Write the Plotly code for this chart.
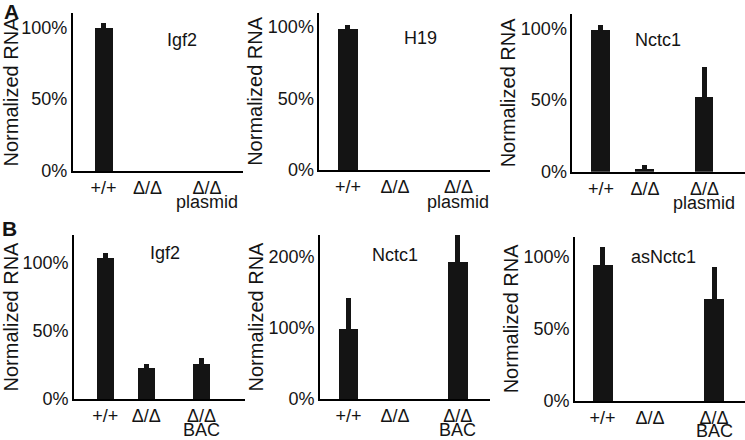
import plotly.graph_objects as go

# ---------------- data ----------------
categories_A = ["+/+", "Δ/Δ", "Δ/Δ"]
sublabels_A = ["", "", "plasmid"]
categories_B = ["+/+", "Δ/Δ", "Δ/Δ"]
sublabels_B = ["", "", "BAC"]

igf2_A = [99.4, 0, 0]
igf2_A_err = [3.5, 0, 0]
h19_A = [98.7, 0, 0]
h19_A_err = [3.0, 0, 0]
nctc1_A = [98.7, 1.9, 52.2]
nctc1_A_err = [3.5, 2.8, 20.5]

igf2_B = [103.4, 22.8, 25.8]
igf2_B_err = [3.4, 2.5, 3.9]
nctc1_B = [98.3, 0, 192.0]
nctc1_B_err = [43.4, 0, 39.7]
asnctc1_B = [94.7, 0, 70.7]
asnctc1_B_err = [12.3, 0, 22.3]

ticks_A = [0, 50, 100]
ticks_B_igf2 = [0, 50, 100]
ticks_B_nctc1 = [0, 100, 200]
ticks_B_asnctc1 = [0, 50, 100]

# ---------------- layout helpers ----------------
W, H = 745, 440
cat_pos = [0, 1, 2.35]  # category slots on the x axis
FONT = "Liberation Sans, Arial, Helvetica, sans-serif"
INK = "#141414"


def px_x(p):
    return p / W


def px_y(p):
    return 1 - p / H


panels = [
    # name, cats, sublabels, vals, errs, yticks, yrange, xrange, xdom(px), ydom(px bottom, top), title pos(px), sublabel y(px)
    ("Igf2", categories_A, sublabels_A, igf2_A, igf2_A_err, ticks_A, [0, 110], [-0.70, 3.17], (72.7, 243), (171, 13), (182, 40), 202),
    ("H19", categories_A, sublabels_A, h19_A, h19_A_err, ticks_A, [0, 110], [-0.61, 3.02], (319.3, 490), (170, 12.7), (420, 38), 202),
    ("Nctc1", categories_A, sublabels_A, nctc1_A, nctc1_A_err, ticks_A, [0, 110], [-0.65, 3.27], (572.3, 745), (171.7, 14), (658, 40), 203),
    ("Igf2", categories_B, sublabels_B, igf2_B, igf2_B_err, ticks_B_igf2, [0, 120], [-0.76, 3.41], (74, 245), (399, 235), (165, 253), 430),
    ("Nctc1", categories_B, sublabels_B, nctc1_B, nctc1_B_err, ticks_B_nctc1, [0, 230], [-0.61, 3.04], (320, 490), (399, 235), (395, 255), 430),
    ("asNctc1", categories_B, sublabels_B, asnctc1_B, asnctc1_B_err, ticks_B_asnctc1, [0, 114], [-0.58, 3.0], (575, 745), (401, 236.7), (663, 257), 431),
]

fig = go.Figure()
annotations = []
layout_axes = {}

for i, (name, cats, subs, vals, errs, yticks, yr, xr, xdom, ydom, tpos, sub_y) in enumerate(panels):
    n = i + 1
    xa = "x" if n == 1 else f"x{n}"
    ya = "y" if n == 1 else f"y{n}"
    fig.add_trace(go.Bar(
        x=cat_pos, y=vals,
        xaxis=xa, yaxis=ya,
        width=0.42,
        marker=dict(color=INK, line=dict(width=0)),
        error_y=dict(type="data", array=errs, arrayminus=[0] * len(errs),
                     symmetric=False, thickness=5, width=0, color=INK),
        showlegend=False, cliponaxis=False,
    ))
    xkey = "xaxis" if n == 1 else f"xaxis{n}"
    ykey = "yaxis" if n == 1 else f"yaxis{n}"
    layout_axes[xkey] = dict(
        domain=[px_x(xdom[0]), px_x(xdom[1])], anchor=ya,
        range=xr, tickvals=cat_pos, ticktext=cats,
        showline=True, linecolor="black", linewidth=1.6,
        showgrid=False, zeroline=False, ticks="", automargin=False,
        tickfont=dict(size=18, family=FONT, color=INK),
        fixedrange=True,
    )
    layout_axes[ykey] = dict(
        domain=[px_y(ydom[0]), px_y(ydom[1])], anchor=xa,
        range=yr, tickvals=yticks, ticktext=[f"{v}%" for v in yticks],
        showline=True, linecolor="black", linewidth=1.6,
        showgrid=False, zeroline=False, ticks="", automargin=False,
        tickfont=dict(size=18, family=FONT, color=INK),
        title=dict(text="Normalized RNA", font=dict(size=20, family=FONT, color=INK)),
        fixedrange=True,
    )
    annotations.append(dict(
        text=name, x=px_x(tpos[0]), y=px_y(tpos[1]), xref="paper", yref="paper",
        showarrow=False, xanchor="center", yanchor="middle",
        font=dict(size=18, family=FONT, color=INK),
    ))
    # second line of the category labels
    for p, s in zip(cat_pos, subs):
        if s:
            annotations.append(dict(
                text=s, x=p, y=px_y(sub_y), xref=xa, yref="paper",
                showarrow=False, xanchor="center", yanchor="middle",
                font=dict(size=18, family=FONT, color=INK),
            ))

annotations.append(dict(text="<b>A</b>", x=px_x(2), y=px_y(11), xref="paper", yref="paper",
                        showarrow=False, xanchor="left", yanchor="middle",
                        font=dict(size=21, family=FONT, color=INK)))
annotations.append(dict(text="<b>B</b>", x=px_x(0), y=px_y(228), xref="paper", yref="paper",
                        showarrow=False, xanchor="left", yanchor="middle",
                        font=dict(size=21, family=FONT, color=INK)))

fig.update_layout(
    template="none",
    width=W, height=H,
    margin=dict(l=0, r=0, t=0, b=0, pad=0),
    paper_bgcolor="white", plot_bgcolor="white",
    font=dict(family=FONT, color=INK),
    annotations=annotations,
    bargap=0,
    **layout_axes,
)

# remove the browser's default 8px page margin so the figure fills the window
fig.write_html("out.html", config={"displayModeBar": False},
               post_script="document.body.style.margin='0';")
